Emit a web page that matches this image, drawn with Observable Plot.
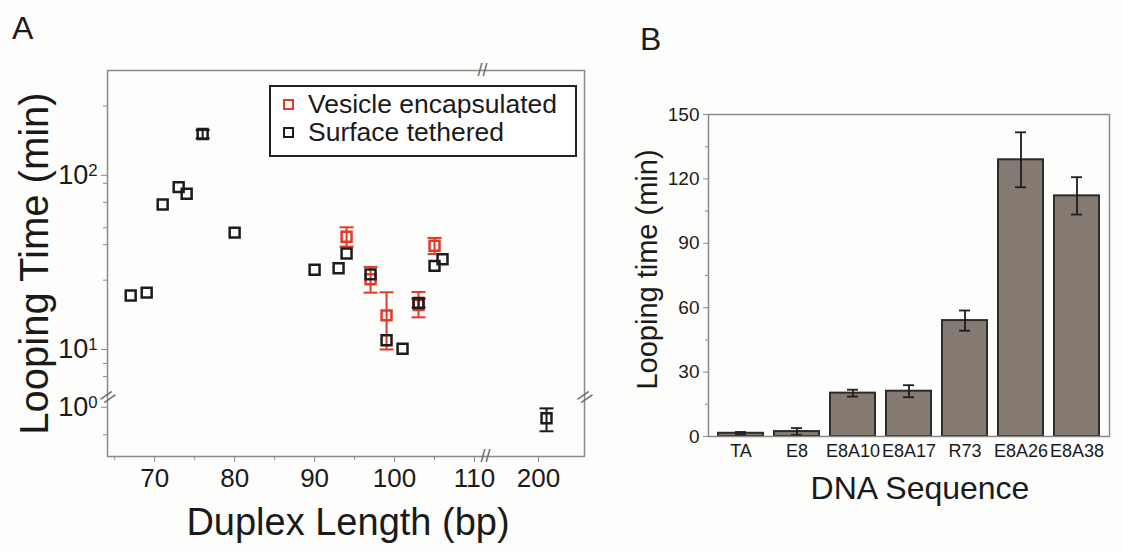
<!DOCTYPE html>
<html><head><meta charset="utf-8">
<script src="https://cdn.jsdelivr.net/npm/d3@7"></script>
<script src="https://cdn.jsdelivr.net/npm/@observablehq/plot@0.6"></script>
<style>
body{margin:0;background:#fdfdfb;}
#wrap{position:relative;width:1122px;height:552px;overflow:hidden;font-family:Arial,"Liberation Sans",sans-serif;color:#1a1a1a;}
.panel{position:absolute;top:0;}
.panel svg{background:transparent;}
.letter{position:absolute;font-size:32px;line-height:1;}
.legend{position:absolute;left:269px;top:85px;width:304px;height:68px;border:2px solid #222;background:#fff;}
.row{position:absolute;left:0;height:26px;display:flex;align-items:center;}
.mk{position:absolute;left:12px;width:7px;height:7px;border:2.5px solid;}
.lt{position:absolute;left:37px;font-size:26.5px;white-space:nowrap;line-height:1;}
</style></head>
<body>
<div id="wrap">
  <div id="pa" class="panel" style="left:0"></div>
  <div id="pb" class="panel" style="left:600px"></div>
  <div class="letter" style="left:12px;top:12px">A</div>
  <div class="letter" style="left:640px;top:23px">B</div>
  <div class="legend" id="legend"></div>
</div>
<script>
// ---------- Panel A data ----------
const vesicleBp   = [94, 97, 99, 103, 105];
const vesicleTime = [44.4, 25.3, 15.7, 18.0, 39.4];
const vesicleLow  = [39.0, 21.2, 10.0, 15.3, 35.3];
const vesicleHigh = [50.3, 29.8, 21.3, 21.4, 43.7];

const tetheredBp   = [67, 69, 71, 73, 74, 76, 80, 90, 93, 94, 97, 99, 101, 103, 105, 106, 201];
const tetheredTime = [20.4, 21.2, 68, 85.6, 78.4, 172.6, 46.9, 28.7, 29.3, 35.6, 27.0, 11.3, 10.1, 18.5, 30.2, 33.0, 0.815];
const tetheredLow  = [20.4, 21.2, 68, 85.6, 78.4, 163, 46.9, 28.7, 29.3, 35.6, 27.0, 11.3, 10.1, 17.4, 30.2, 33.0, 0.64];
const tetheredHigh = [20.4, 21.2, 68, 85.6, 78.4, 182, 46.9, 28.7, 29.3, 35.6, 27.0, 11.3, 10.1, 19.6, 30.2, 33.0, 0.98];

const xMajorTicksA = [70, 80, 90, 100, 110, 200];
const xMinorTicksA = [65, 75, 85, 95, 105];
const yMajorTicksA = [1, 10, 100];
const yTickLabelsA = ["10^0", "10^1", "10^2"];
const yMinorTicksA = [0.6, 7, 8.3, 25, 40, 50, 70, 90, 250];
const xBreak = 150, yBreak = 3;

const legendLabels = ["Vesicle encapsulated", "Surface tethered"];
const legendColors = ["#e3392b", "#1c1c1c"];

// ---------- Panel B data ----------
const sequences = ["TA", "E8", "E8A10", "E8A17", "R73", "E8A26", "E8A38"];
const loopTime  = [1.5, 2.3, 20.2, 21.1, 54.0, 128.9, 112.1];
const loopErr   = [0.6, 1.6, 1.6, 2.8, 4.7, 12.8, 8.7];
const yTicksB = [0, 30, 60, 90, 120, 150];
const yMinorB = [15, 45, 75, 105, 135];

const FONT = "Arial, 'Liberation Sans', sans-serif";
const RED = legendColors[0], BLK = legendColors[1];
const capSymbol = {draw(ctx) { ctx.moveTo(-7, 0); ctx.lineTo(7, 0); }};

const ves = vesicleBp.map((x, i) => ({x, y: vesicleTime[i], lo: vesicleLow[i], hi: vesicleHigh[i]}));
const teth = tetheredBp.map((x, i) => ({x, y: tetheredTime[i], lo: tetheredLow[i], hi: tetheredHigh[i]}));
const tethErr = teth.filter(d => d.lo !== d.y || d.hi !== d.y);

const brk = {fontSize: 18, fill: "#666", lineAnchor: "middle", textAnchor: "middle"};

const plotA = Plot.plot({
  width: 600, height: 552,
  marginLeft: 107, marginRight: 16, marginTop: 70, marginBottom: 96,
  style: {fontFamily: FONT, background: "transparent", color: "#1a1a1a", overflow: "visible"},
  x: {type: "linear", domain: [64.1, 111, 193, 205.75], range: [107, 482, 482, 584]},
  y: {type: "log", domain: [0.4, 1.2, 5.3, 400], range: [456, 397, 397, 70]},
  marks: [
    Plot.frame({stroke: "#8a8a8a", strokeWidth: 1.5}),
    Plot.axisX({ticks: xMajorTicksA, tickFormat: d => String(d), tickSize: 6, tickPadding: 6, fontSize: 26, stroke: "#8a8a8a", fill: "#1a1a1a", label: null}),
    Plot.axisX({ticks: xMinorTicksA, tickFormat: () => "", tickSize: 4, stroke: "#8a8a8a", label: null}),
    Plot.axisY({ticks: yMajorTicksA, tickFormat: d => yTickLabelsA[yMajorTicksA.indexOf(d)], tickSize: 6, tickPadding: 4, fontSize: 27, stroke: "#8a8a8a", fill: "#1a1a1a", label: null}),
    Plot.axisY({ticks: yMinorTicksA, tickFormat: () => "", tickSize: 4, stroke: "#8a8a8a", label: null}),
    // break marks
    Plot.text(["//"], {x: () => xBreak, frameAnchor: "top", ...brk}),
    Plot.text(["//"], {x: () => xBreak, frameAnchor: "bottom", dx: 3, ...brk}),
    Plot.text(["//"], {y: () => yBreak, frameAnchor: "left", rotate: 40, ...brk}),
    Plot.text(["//"], {y: () => yBreak, frameAnchor: "right", rotate: 40, ...brk}),
    // vesicle encapsulated
    Plot.ruleX(ves, {x: "x", y1: "lo", y2: "hi", stroke: RED, strokeWidth: 2}),
    Plot.dot(ves, {x: "x", y: "lo", symbol: capSymbol, stroke: RED, strokeWidth: 2, fill: "none"}),
    Plot.dot(ves, {x: "x", y: "hi", symbol: capSymbol, stroke: RED, strokeWidth: 2, fill: "none"}),
    Plot.dot(ves, {x: "x", y: "y", symbol: "square", r: 5.6, stroke: RED, strokeWidth: 2.5, fill: "none"}),
    // surface tethered
    Plot.ruleX(tethErr, {x: "x", y1: "lo", y2: "hi", stroke: BLK, strokeWidth: 2}),
    Plot.dot(tethErr, {x: "x", y: "lo", symbol: capSymbol, stroke: BLK, strokeWidth: 2, fill: "none"}),
    Plot.dot(tethErr, {x: "x", y: "hi", symbol: capSymbol, stroke: BLK, strokeWidth: 2, fill: "none"}),
    Plot.dot(teth, {x: "x", y: "y", symbol: "square", r: 5.6, stroke: BLK, strokeWidth: 2.5, fill: "none"}),
    // axis titles
    Plot.text(["Duplex Length (bp)"], {frameAnchor: "bottom", lineAnchor: "middle", textAnchor: "middle", dx: 2, dy: 66, fontSize: 38, fill: "#1a1a1a"}),
    Plot.text(["Looping Time (min)"], {frameAnchor: "left", lineAnchor: "middle", textAnchor: "middle", rotate: -90, dx: -72, fontSize: 40, fill: "#1a1a1a"})
  ]
});
// superscript exponents
plotA.querySelectorAll("text").forEach(t => {
  const s = t.textContent;
  if (/^10\^\d$/.test(s)) {
    const [b, e] = s.split("^");
    t.textContent = b;
    const ts = document.createElementNS("http://www.w3.org/2000/svg", "tspan");
    ts.setAttribute("dy", "-0.5em");
    ts.setAttribute("font-size", "0.62em");
    ts.textContent = e;
    t.appendChild(ts);
  }
});
document.getElementById("pa").appendChild(plotA);

// legend
const lg = document.getElementById("legend");
legendLabels.forEach((lab, i) => {
  const row = document.createElement("div");
  row.className = "row";
  row.style.top = (4 + i * 28) + "px";
  row.style.width = "100%";
  const mk = document.createElement("div");
  mk.className = "mk";
  mk.style.borderColor = legendColors[i];
  const tx = document.createElement("div");
  tx.className = "lt";
  tx.textContent = lab;
  row.appendChild(mk); row.appendChild(tx);
  lg.appendChild(row);
});

// ---------- Panel B ----------
const bars = sequences.map((s, i) => ({s, v: loopTime[i], e: loopErr[i]}));
const plotB = Plot.plot({
  width: 522, height: 552,
  marginLeft: 108, marginRight: 13, marginTop: 114, marginBottom: 116,
  style: {fontFamily: FONT, background: "transparent", color: "#1a1a1a", overflow: "visible"},
  x: {domain: sequences, paddingInner: 0.19, paddingOuter: 0.125},
  y: {domain: [0, 150]},
  marks: [
    Plot.barY(bars, {x: "s", y: "v", fill: "#857a71", stroke: "#2b2b2b", strokeWidth: 2}),
    Plot.ruleX(bars, {x: "s", y1: d => d.v - d.e, y2: d => d.v + d.e, stroke: "#1e1e1e", strokeWidth: 1.8}),
    Plot.tickY(bars, {x: "s", y: d => d.v + d.e, insetLeft: 17, insetRight: 17, stroke: "#1e1e1e", strokeWidth: 1.8}),
    Plot.tickY(bars, {x: "s", y: d => d.v - d.e, insetLeft: 17, insetRight: 17, stroke: "#1e1e1e", strokeWidth: 1.8}),
    Plot.frame({stroke: "#8a8a8a", strokeWidth: 1.5}),
    Plot.axisY({ticks: yTicksB, tickSize: 5, tickPadding: 4, fontSize: 19, stroke: "#8a8a8a", fill: "#1a1a1a", label: null}),
    Plot.axisY({ticks: yMinorB, tickSize: 3, tickFormat: () => "", stroke: "#8a8a8a", label: null}),
    Plot.axisX({tickSize: 0, tickPadding: 8, fontSize: 18, fill: "#1a1a1a", label: null}),
    Plot.text(["Looping time (min)"], {frameAnchor: "left", lineAnchor: "middle", textAnchor: "middle", rotate: -90, dx: -61, dy: -6, fontSize: 29, fill: "#1a1a1a"}),
    Plot.text(["DNA Sequence"], {frameAnchor: "bottom", lineAnchor: "middle", textAnchor: "middle", dx: 11, dy: 52, fontSize: 32, fill: "#1a1a1a"})
  ]
});
document.getElementById("pb").appendChild(plotB);
</script>
</body></html>
